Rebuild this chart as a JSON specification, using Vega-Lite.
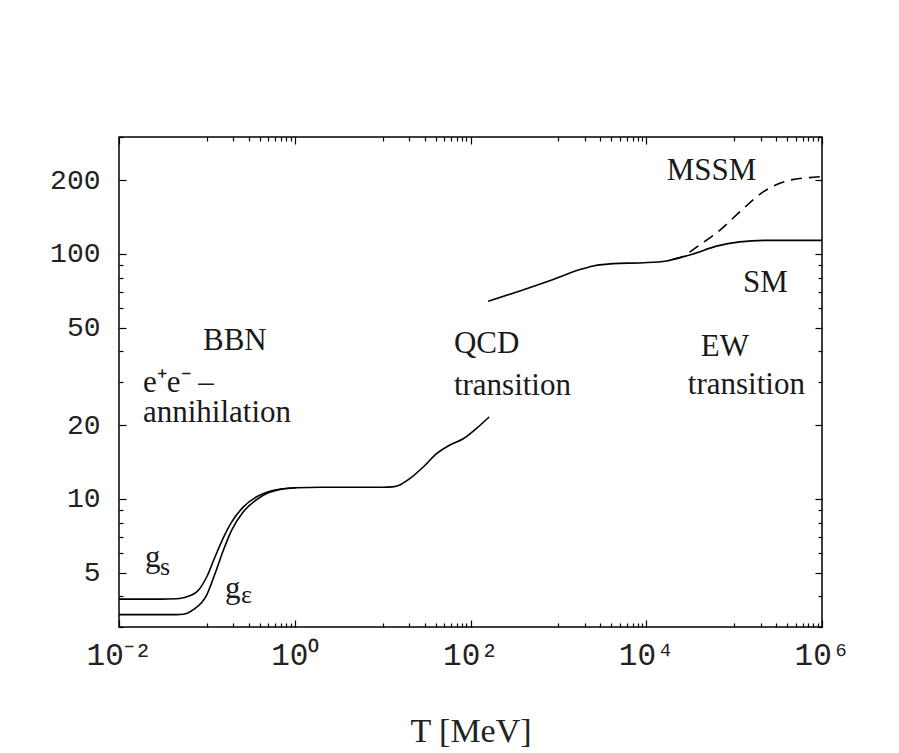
{
  "$schema": "https://vega.github.io/schema/vega-lite/v6.json",
  "width": 703,
  "height": 490,
  "autosize": {"type": "none"},
  "padding": {"left": 119, "top": 137, "right": 77, "bottom": 126},
  "background": "white",
  "config": {
    "view": {"stroke": "black", "strokeWidth": 1.5},
    "axis": {"grid": false, "domain": false, "tickColor": "black", "tickWidth": 1.2, "labelColor": "#222", "labelOverlap": false, "labelFlush": false, "title": null}
  },
  "datasets": {
    "curves": [
      {"series": "gs", "T": 0.01, "g": 3.9},
      {"series": "gs", "T": 0.03, "g": 3.9},
      {"series": "gs", "T": 0.045, "g": 3.91},
      {"series": "gs", "T": 0.054, "g": 3.95},
      {"series": "gs", "T": 0.0766, "g": 4.17},
      {"series": "gs", "T": 0.0995, "g": 4.8},
      {"series": "gs", "T": 0.1236, "g": 5.79},
      {"series": "gs", "T": 0.1537, "g": 6.93},
      {"series": "gs", "T": 0.191, "g": 8.04},
      {"series": "gs", "T": 0.259, "g": 9.26},
      {"series": "gs", "T": 0.368, "g": 10.2},
      {"series": "gs", "T": 0.5, "g": 10.7},
      {"series": "gs", "T": 0.622, "g": 10.9},
      {"series": "gs", "T": 1.04, "g": 11.1},
      {"series": "gs", "T": 2, "g": 11.15},
      {"series": "gs", "T": 5, "g": 11.15},
      {"series": "gs", "T": 10, "g": 11.15},
      {"series": "gs", "T": 13, "g": 11.2},
      {"series": "gs", "T": 15.7, "g": 11.4},
      {"series": "gs", "T": 20.4, "g": 12.1},
      {"series": "gs", "T": 29, "g": 13.5},
      {"series": "gs", "T": 41.1, "g": 15.3},
      {"series": "gs", "T": 58.3, "g": 16.6},
      {"series": "gs", "T": 82.6, "g": 17.6},
      {"series": "gs", "T": 117, "g": 19.4},
      {"series": "gs", "T": 163, "g": 21.6},
      {"series": "ge", "T": 0.01, "g": 3.37},
      {"series": "ge", "T": 0.045, "g": 3.37},
      {"series": "ge", "T": 0.054, "g": 3.38},
      {"series": "ge", "T": 0.07, "g": 3.53},
      {"series": "ge", "T": 0.0995, "g": 4.05},
      {"series": "ge", "T": 0.124, "g": 4.96},
      {"series": "ge", "T": 0.154, "g": 6.17},
      {"series": "ge", "T": 0.191, "g": 7.44},
      {"series": "ge", "T": 0.259, "g": 8.84},
      {"series": "ge", "T": 0.368, "g": 9.94},
      {"series": "ge", "T": 0.5, "g": 10.6},
      {"series": "ge", "T": 0.622, "g": 10.85},
      {"series": "ge", "T": 1.04, "g": 11.1},
      {"series": "SM", "T": 159, "g": 64.1},
      {"series": "SM", "T": 365, "g": 70.6},
      {"series": "SM", "T": 873, "g": 78.6},
      {"series": "SM", "T": 1757, "g": 86.3},
      {"series": "SM", "T": 2490, "g": 89.3},
      {"series": "SM", "T": 4205, "g": 91.3},
      {"series": "SM", "T": 9230, "g": 92},
      {"series": "SM", "T": 17000, "g": 93.6},
      {"series": "SM", "T": 20200, "g": 95},
      {"series": "SM", "T": 34200, "g": 100},
      {"series": "SM", "T": 63000, "g": 107.6},
      {"series": "SM", "T": 116000, "g": 112},
      {"series": "SM", "T": 234000, "g": 113.6},
      {"series": "SM", "T": 1000000, "g": 113.6}
    ],
    "mssm": [
      {"series": "MSSM", "T": 20200, "g": 95},
      {"series": "MSSM", "T": 26300, "g": 97.5},
      {"series": "MSSM", "T": 35700, "g": 105.3},
      {"series": "MSSM", "T": 69000, "g": 125},
      {"series": "MSSM", "T": 127000, "g": 153},
      {"series": "MSSM", "T": 214000, "g": 179},
      {"series": "MSSM", "T": 430000, "g": 200},
      {"series": "MSSM", "T": 865000, "g": 206},
      {"series": "MSSM", "T": 1000000, "g": 207}
    ],
    "labels": [
      {"T": 0.0903, "g": 40.5, "text": "BBN"},
      {"T": 0.01875, "g": 27.3, "text": "e⁺e⁻ –"},
      {"T": 0.01875, "g": 20.6, "text": "annihilation"},
      {"T": 0.0198, "g": 5.26, "text": "g"},
      {"T": 0.161, "g": 3.94, "text": "g"},
      {"T": 64.7, "g": 39.3, "text": "QCD"},
      {"T": 64.7, "g": 26.5, "text": "transition"},
      {"T": 41800, "g": 38.4, "text": "EW"},
      {"T": 29700, "g": 26.8, "text": "transition"},
      {"T": 17100, "g": 200, "text": "MSSM"},
      {"T": 126000, "g": 69.8, "text": "SM"}
    ],
    "subs": [
      {"T": 0.0293, "g": 4.88, "text": "s"},
      {"T": 0.244, "g": 3.76, "text": "ε"}
    ]
  },
  "layer": [
    {
      "data": {"name": "curves"},
      "mark": {"type": "line", "color": "black", "strokeWidth": 1.6, "interpolate": "monotone"},
      "encoding": {
        "x": {
          "field": "T", "type": "quantitative",
          "scale": {"type": "log", "domain": [0.01, 1000000], "nice": false},
          "axis": {
            "orient": "bottom",
            "values": [0.01, 1, 100, 10000, 1000000],
            "labelExpr": "datum.value==0.01?'10⁻²':datum.value==1?'10⁰':datum.value==100?'10²':datum.value==10000?'10⁴':'10⁶'",
            "tickSize": -7,
            "labelFont": "Liberation Mono", "labelFontSize": 31, "labelPadding": 20,
            "title": "T [MeV]", "titleFont": "Liberation Serif", "titleFontSize": 34, "titleFontWeight": "normal", "titleColor": "#222", "titlePadding": 44
          }
        },
        "y": {
          "field": "g", "type": "quantitative",
          "scale": {"type": "log", "domain": [3, 300], "nice": false},
          "axis": {
            "orient": "left",
            "values": [5, 10, 20, 50, 100, 200],
            "format": "d",
            "tickSize": -7,
            "labelFont": "Liberation Mono", "labelFontSize": 28, "labelPadding": 26
          }
        },
        "detail": {"field": "series"}
      }
    },
    {
      "data": {"name": "mssm"},
      "mark": {"type": "line", "color": "black", "strokeWidth": 1.6, "strokeDash": [11, 7], "interpolate": "monotone"},
      "encoding": {
        "x": {
          "field": "T", "type": "quantitative",
          "scale": {"type": "log", "domain": [0.01, 1000000], "nice": false},
          "axis": {
            "orient": "bottom",
            "values": [0.1, 0.2, 0.3, 0.4, 0.5, 0.6, 0.7, 0.8, 0.9, 10, 20, 30, 40, 50, 60, 70, 80, 90, 1000, 2000, 3000, 4000, 5000, 6000, 7000, 8000, 9000, 100000, 200000, 300000, 400000, 500000, 600000, 700000, 800000, 900000],
            "labels": false,
            "tickSize": -4
          }
        },
        "y": {
          "field": "g", "type": "quantitative",
          "scale": {"type": "log", "domain": [3, 300], "nice": false},
          "axis": {
            "orient": "left",
            "values": [3, 4, 6, 7, 8, 9, 30, 40, 60, 70, 80, 90, 300],
            "labels": false,
            "tickSize": -4
          }
        }
      }
    },
    {
      "data": {"name": "labels"},
      "mark": {"type": "text", "align": "left", "baseline": "alphabetic", "font": "Liberation Serif", "fontSize": 31, "color": "#1a1a1a"},
      "encoding": {
        "x": {
          "field": "T", "type": "quantitative",
          "scale": {"type": "log", "domain": [0.01, 1000000], "nice": false},
          "axis": {
            "orient": "top",
            "values": [0.01, 1, 100, 10000, 1000000],
            "labels": false,
            "tickSize": -7
          }
        },
        "y": {
          "field": "g", "type": "quantitative",
          "scale": {"type": "log", "domain": [3, 300], "nice": false},
          "axis": {
            "orient": "right",
            "values": [5, 10, 20, 50, 100, 200],
            "labels": false,
            "tickSize": -7
          }
        },
        "text": {"field": "text"}
      }
    },
    {
      "data": {"name": "subs"},
      "mark": {"type": "text", "align": "left", "baseline": "alphabetic", "font": "Liberation Serif", "fontSize": 26, "color": "#1a1a1a"},
      "encoding": {
        "x": {
          "field": "T", "type": "quantitative",
          "scale": {"type": "log", "domain": [0.01, 1000000], "nice": false},
          "axis": {
            "orient": "top",
            "values": [0.1, 0.2, 0.3, 0.4, 0.5, 0.6, 0.7, 0.8, 0.9, 10, 20, 30, 40, 50, 60, 70, 80, 90, 1000, 2000, 3000, 4000, 5000, 6000, 7000, 8000, 9000, 100000, 200000, 300000, 400000, 500000, 600000, 700000, 800000, 900000],
            "labels": false,
            "tickSize": -4
          }
        },
        "y": {
          "field": "g", "type": "quantitative",
          "scale": {"type": "log", "domain": [3, 300], "nice": false},
          "axis": {
            "orient": "right",
            "values": [3, 4, 6, 7, 8, 9, 30, 40, 60, 70, 80, 90, 300],
            "labels": false,
            "tickSize": -4
          }
        },
        "text": {"field": "text"}
      }
    }
  ],
  "resolve": {"axis": {"x": "independent", "y": "independent"}}
}
